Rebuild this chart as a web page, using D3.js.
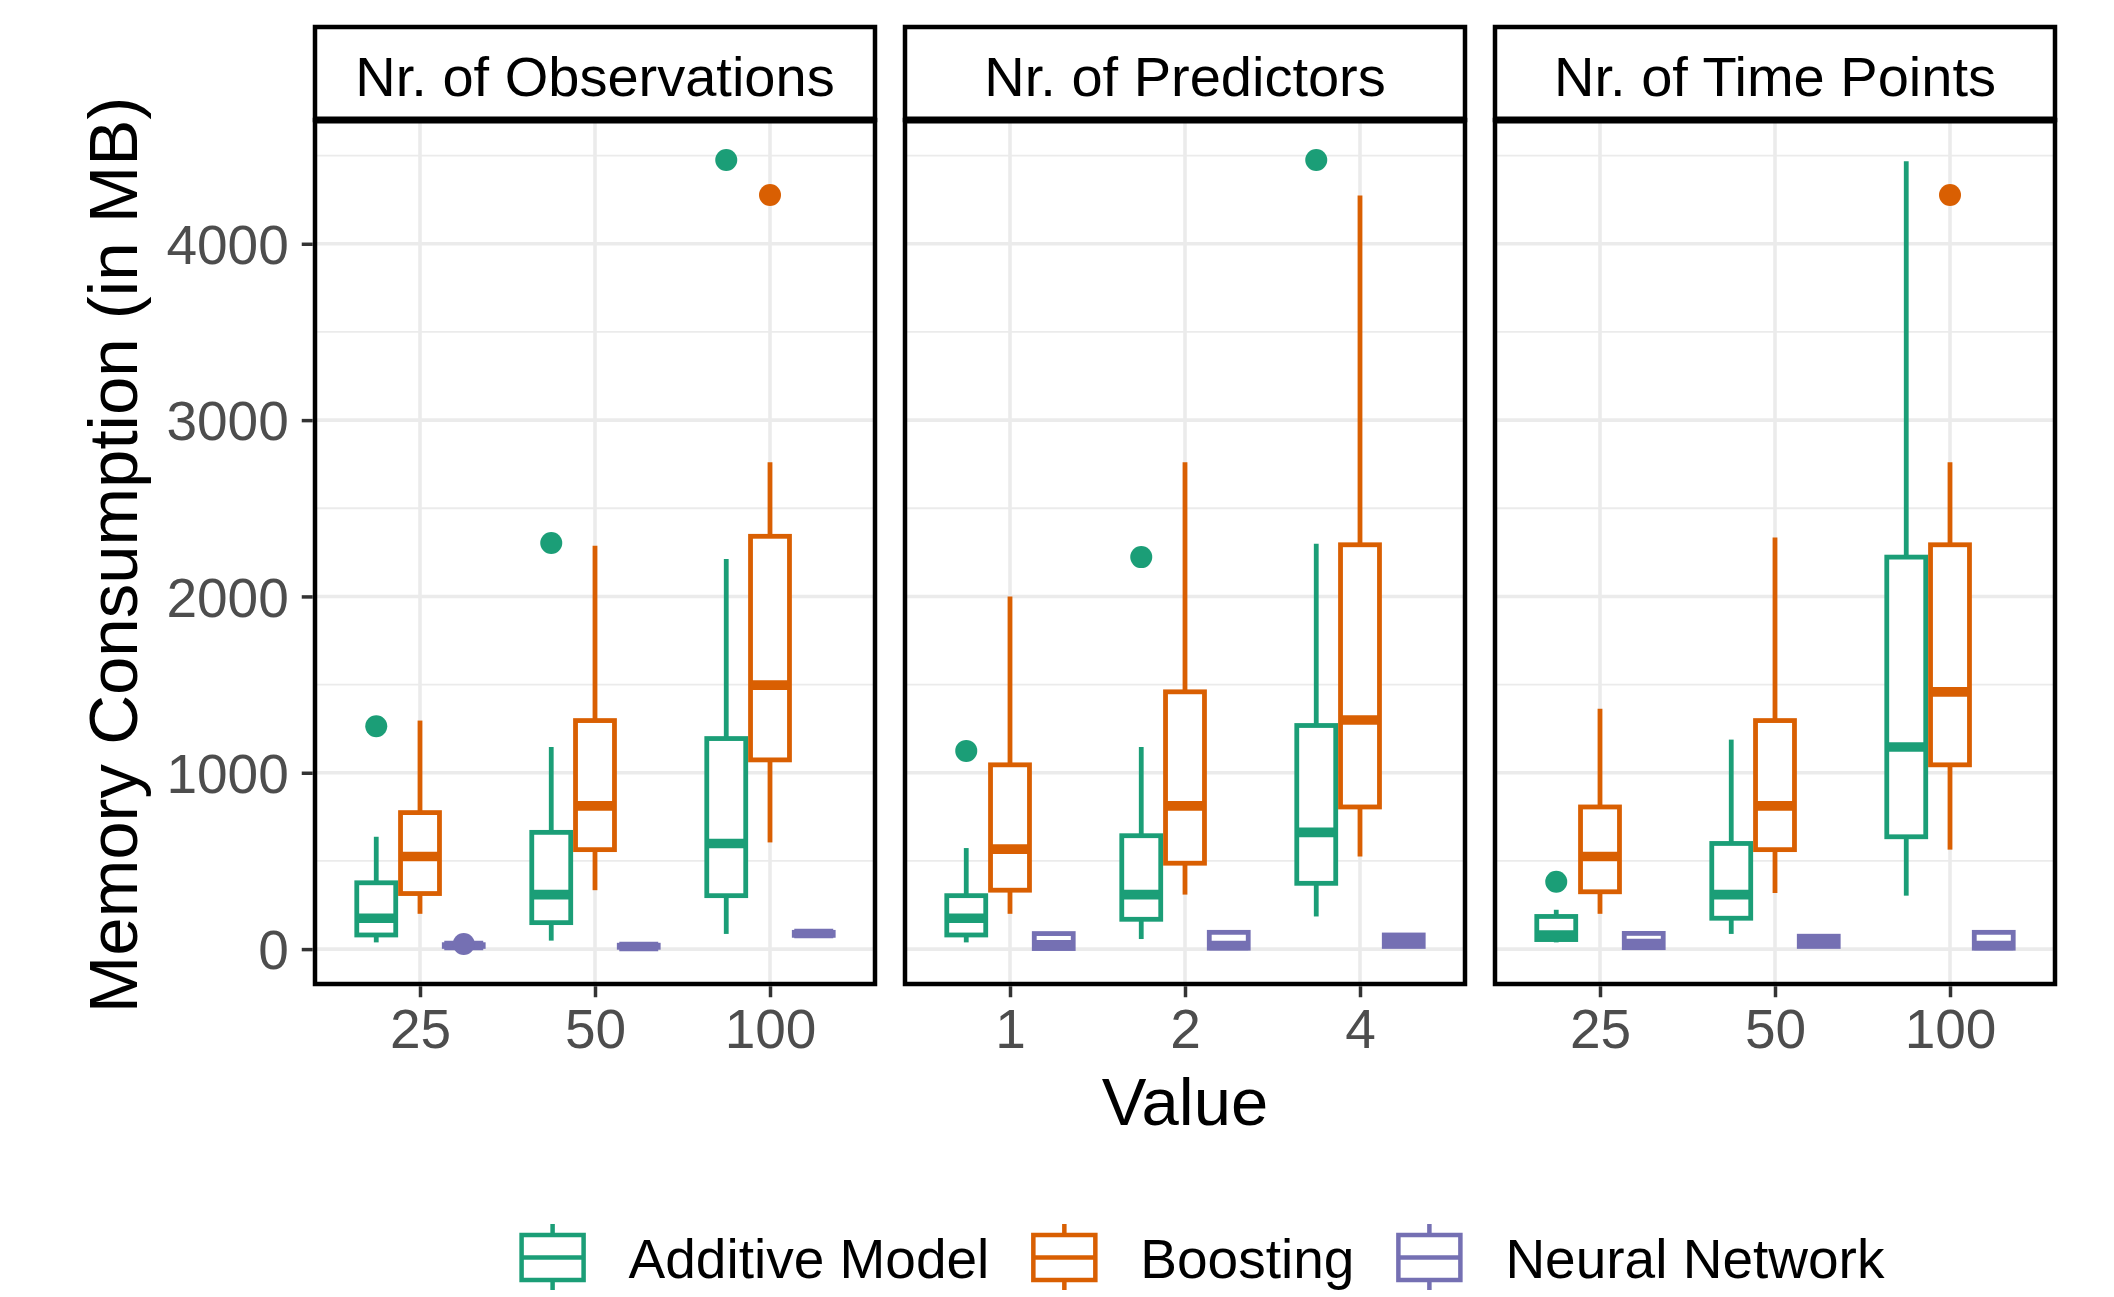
<!DOCTYPE html>
<html lang="en">
<head>
    <meta charset="UTF-8">
    <title>Memory Consumption</title>
    <script src="https://d3js.org/d3.v7.min.js"></script>
    <style>
        body { margin: 0; background: white; }
        text { font-family: "Liberation Sans", Arial, sans-serif; }
    </style>
</head>
<body>

<svg width="2114" height="1297"></svg>

<script>
    // Facets and their levels
    const facets = ["Nr. of Observations", "Nr. of Predictors", "Nr. of Time Points"];
    const levels = [["25", "50", "100"], ["1", "2", "4"], ["25", "50", "100"]];
    const models = ["Additive Model", "Boosting", "Neural Network"];
    const colors = ["#1B9E77", "#D95F02", "#7570B3"];

    // [lower whisker, q1, median, q3, upper whisker] per facet, per level
    const additiveStats = [
        [[38, 80, 175, 376, 637], [48, 150, 309, 662, 1146], [86, 303, 599, 1194, 2213]],
        [[38, 80, 175, 303, 573], [57, 169, 309, 643, 1146], [185, 373, 662, 1268, 2299]],
        [[38, 54, 80, 185, 223], [86, 175, 309, 599, 1188], [303, 637, 1146, 2223, 4468]]
    ];
    const boostingStats = [
        [[200, 315, 525, 774, 1296], [334, 564, 812, 1296, 2287], [605, 1073, 1497, 2341, 2761]],
        [[200, 334, 567, 1045, 2000], [309, 487, 812, 1459, 2761], [525, 806, 1299, 2293, 4274]],
        [[200, 325, 525, 806, 1363], [318, 564, 812, 1296, 2334], [564, 1045, 1459, 2293, 2761]]
    ];
    const neuralStats = [
        [[10, 15, 20, 25, 30], [5, 10, 15, 22, 28], [70, 78, 88, 95, 100]],
        [[0, 3, 25, 88, 92], [0, 5, 20, 95, 100], [10, 15, 45, 80, 89]],
        [[0, 8, 32, 89, 92], [10, 15, 40, 73, 78], [0, 5, 20, 95, 98]]
    ];
    // outliers: [facet index, level index, value]
    const additiveOutliers = [[0, 0, 1264], [0, 1, 2303], [0, 2, 4475], [1, 0, 1124], [1, 1, 2223], [1, 2, 4475], [2, 0, 382]];
    const boostingOutliers = [[0, 2, 4277], [2, 2, 4277]];
    const neuralOutliers = [[0, 0, 29]];

    const yTicks = [0, 1000, 2000, 3000, 4000];
    const yMinor = [500, 1500, 2500, 3500, 4500];

    const allStats = [additiveStats, boostingStats, neuralStats];
    const allOutliers = [additiveOutliers, boostingOutliers, neuralOutliers];

    const svg = d3.select("svg");

    // Layout
    const stripTop = 27, panelTop = 120, panelBottom = 984;
    const lineW = 4.8, gridW = 3.6, border = 4.5;

    const fx = d3.scaleBand().domain(facets).range([315, 2055]).paddingInner(30 / 590);
    const pw = fx.bandwidth();
    const y = d3.scaleLinear().domain([-198, 4702]).range([panelBottom, panelTop]);

    facets.forEach((f, fi) => {
        const x = d3.scalePoint().domain(levels[fi]).range([0, pw]).padding(0.6);
        const step = x.step();
        const boxW = 0.25 * step - lineW;
        const g = svg.append("g").attr("transform", `translate(${fx(f)},0)`);

        // panel background + grid
        g.append("rect").attr("x", 0).attr("y", panelTop)
            .attr("width", pw).attr("height", panelBottom - panelTop).attr("fill", "white");
        g.selectAll(".minor").data(yMinor).join("line")
            .attr("x1", 0).attr("x2", pw).attr("y1", d => y(d)).attr("y2", d => y(d))
            .attr("stroke", "#EBEBEB").attr("stroke-width", gridW / 2);
        g.selectAll(".major").data(yTicks).join("line")
            .attr("x1", 0).attr("x2", pw).attr("y1", d => y(d)).attr("y2", d => y(d))
            .attr("stroke", "#EBEBEB").attr("stroke-width", gridW);
        g.selectAll(".vgrid").data(levels[fi]).join("line")
            .attr("x1", d => x(d)).attr("x2", d => x(d)).attr("y1", panelTop).attr("y2", panelBottom)
            .attr("stroke", "#EBEBEB").attr("stroke-width", gridW);

        // boxes
        models.forEach((m, mi) => {
            const col = colors[mi];
            const off = (mi - 1) * 0.25 * step;
            levels[fi].forEach((lv, li) => {
                const s = allStats[mi][fi][li];
                const cx = x(lv) + off;
                g.append("line").attr("x1", cx).attr("x2", cx)
                    .attr("y1", y(s[3])).attr("y2", y(s[4]))
                    .attr("stroke", col).attr("stroke-width", lineW);
                g.append("line").attr("x1", cx).attr("x2", cx)
                    .attr("y1", y(s[1])).attr("y2", y(s[0]))
                    .attr("stroke", col).attr("stroke-width", lineW);
                g.append("rect").attr("x", cx - boxW / 2).attr("y", y(s[3]))
                    .attr("width", boxW).attr("height", Math.max(0, y(s[1]) - y(s[3])))
                    .attr("fill", "white").attr("stroke", col).attr("stroke-width", lineW);
                g.append("line").attr("x1", cx - boxW / 2).attr("x2", cx + boxW / 2)
                    .attr("y1", y(s[2])).attr("y2", y(s[2]))
                    .attr("stroke", col).attr("stroke-width", lineW * 2);
            });
            allOutliers[mi].filter(o => o[0] === fi).forEach(o => {
                g.append("circle").attr("cx", x(levels[fi][o[1]]) + off).attr("cy", y(o[2]))
                    .attr("r", 11).attr("fill", col);
            });
        });

        // panel border
        g.append("rect").attr("x", 0).attr("y", panelTop)
            .attr("width", pw).attr("height", panelBottom - panelTop)
            .attr("fill", "none").attr("stroke", "black").attr("stroke-width", border);

        // strip
        g.append("rect").attr("x", 0).attr("y", stripTop)
            .attr("width", pw).attr("height", panelTop - stripTop)
            .attr("fill", "white").attr("stroke", "black").attr("stroke-width", border);
        g.append("line").attr("x1", 0).attr("x2", pw).attr("y1", panelTop).attr("y2", panelTop)
            .attr("stroke", "black").attr("stroke-width", border * 1.6);
        g.append("text").attr("x", pw / 2).attr("y", 96)
            .attr("text-anchor", "middle").attr("font-size", 56).attr("fill", "black")
            .text(f);

        // x axis
        const ax = g.append("g").attr("transform", `translate(0,${panelBottom + border / 2})`)
            .call(d3.axisBottom(x).tickSize(11).tickPadding(12));
        ax.select(".domain").remove();
        ax.selectAll("line").attr("stroke", "#333333").attr("stroke-width", 3.5);
        ax.selectAll("text").attr("font-size", 55).attr("fill", "#4D4D4D")
            .attr("font-family", "Liberation Sans, Arial, sans-serif");

        // y axis on first panel
        if (fi === 0) {
            const ay = g.append("g").attr("transform", `translate(${-border / 2},0)`)
                .call(d3.axisLeft(y).tickValues(yTicks).tickFormat(d3.format("d")).tickSize(11).tickPadding(13));
            ay.select(".domain").remove();
            ay.selectAll("line").attr("stroke", "#333333").attr("stroke-width", 3.5);
            ay.selectAll("text").attr("font-size", 55).attr("fill", "#4D4D4D").attr("dy", "0.36em")
                .attr("font-family", "Liberation Sans, Arial, sans-serif");
        }
    });

    // axis titles
    svg.append("text")
        .attr("x", (315 + 2055) / 2).attr("y", 1125)
        .attr("text-anchor", "middle").attr("font-size", 67).attr("fill", "black")
        .text("Value");
    svg.append("text")
        .attr("transform", "translate(137,555) rotate(-90)")
        .attr("text-anchor", "middle").attr("font-size", 69).attr("fill", "black")
        .text("Memory Consumption (in MB)");

    // legend
    const legend = svg.append("g");
    let lx = 0;
    const keyW = 62, keyTop = 1235, keyBot = 1280;
    models.forEach((m, mi) => {
        const k = legend.append("g").attr("transform", `translate(${lx},0)`);
        const cx = keyW / 2;
        k.append("line").attr("x1", cx).attr("x2", cx).attr("y1", 1224).attr("y2", 1290)
            .attr("stroke", colors[mi]).attr("stroke-width", 4.5);
        k.append("rect").attr("x", 0).attr("y", keyTop).attr("width", keyW).attr("height", keyBot - keyTop)
            .attr("fill", "white").attr("stroke", colors[mi]).attr("stroke-width", 4.5);
        k.append("line").attr("x1", 0).attr("x2", keyW).attr("y1", (keyTop + keyBot) / 2).attr("y2", (keyTop + keyBot) / 2)
            .attr("stroke", colors[mi]).attr("stroke-width", 4.5);
        const t = k.append("text").attr("x", keyW + 45).attr("y", 1278)
            .attr("font-size", 55).attr("fill", "black").text(m);
        lx += keyW + 45 + t.node().getComputedTextLength() + 44;
    });
    const legendW = lx - 44;
    legend.attr("transform", `translate(${1203 - legendW / 2},0)`);
</script>

</body>
</html>
